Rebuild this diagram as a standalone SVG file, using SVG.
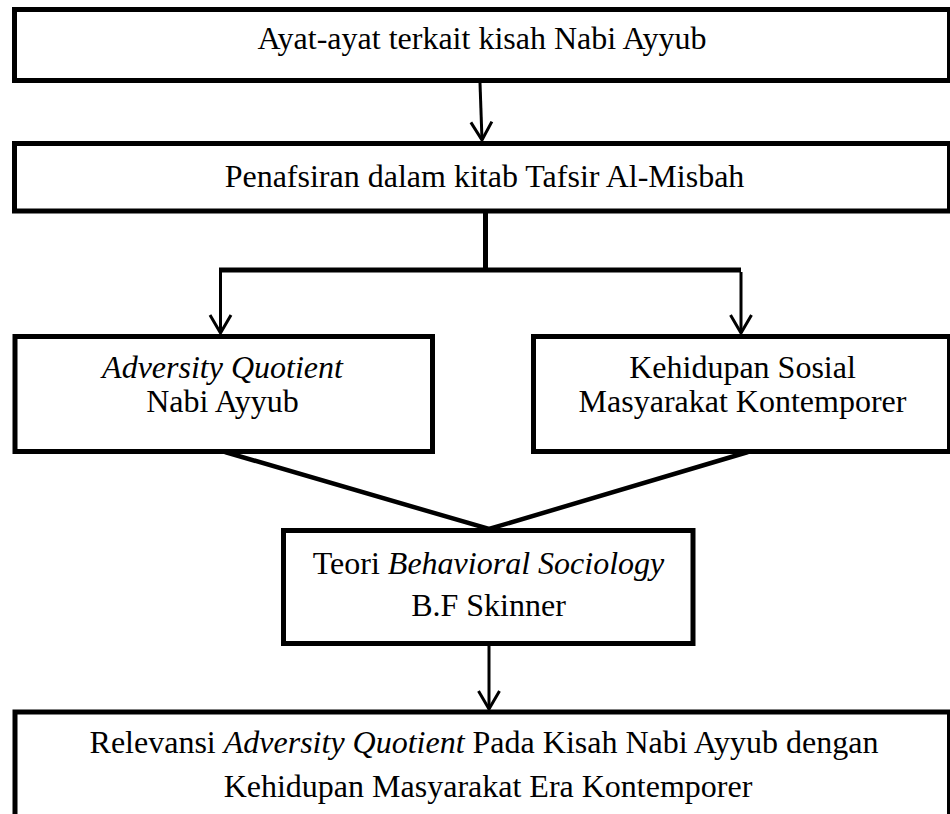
<svg xmlns="http://www.w3.org/2000/svg" width="950" height="814" viewBox="0 0 950 814">
<defs>
<style>
.box{fill:#fff;stroke:#000;stroke-width:5}
.t{font-family:"Liberation Serif","Times New Roman",serif;font-size:32px;fill:#000;text-anchor:middle}
.i{font-style:italic}
.arr{stroke:#000;stroke-width:3;fill:none;marker-end:url(#v)}
.thick{stroke:#000;stroke-width:5;fill:none}
.diag{stroke:#000;stroke-width:4.5;fill:none}
</style>
<marker id="v" markerUnits="userSpaceOnUse" orient="auto" refX="0" refY="0" overflow="visible">
<path d="M-18,-10.5 L0,0 L-18,10.5" fill="none" stroke="#000" stroke-width="3"/>
</marker>
</defs>
<rect width="950" height="814" fill="#fff"/>
<g id="connectors">
<line class="arr" x1="480" y1="83" x2="482" y2="140"/>
<line class="thick" x1="485.5" y1="212" x2="485.5" y2="270"/>
<line class="thick" x1="219" y1="270" x2="741" y2="270"/>
<line class="arr" x1="220.5" y1="272" x2="220.5" y2="333"/>
<line class="arr" x1="741" y1="272" x2="741" y2="333"/>
<polyline class="diag" points="225,452 489,529 748,452"/>
<line class="arr" x1="489" y1="645" x2="489" y2="709"/>
</g>
<g id="node-ayat">
<rect class="box" x="14.5" y="9.5" width="935" height="71"/>
<text class="t" x="482" y="49">Ayat-ayat terkait kisah Nabi Ayyub</text>
</g>
<g id="node-penafsiran">
<rect class="box" x="14.5" y="143.5" width="935" height="67.5"/>
<text class="t" x="484.5" y="187">Penafsiran dalam kitab Tafsir Al-Misbah</text>
</g>
<g id="node-aq">
<rect class="box" x="15" y="336.5" width="417.5" height="115"/>
<text class="t" x="222.5" y="378"><tspan class="i">Adversity Quotient</tspan></text>
<text class="t" x="222.5" y="412">Nabi Ayyub</text>
</g>
<g id="node-sosial">
<rect class="box" x="533.5" y="336.5" width="416" height="115"/>
<text class="t" x="742.5" y="378">Kehidupan Sosial</text>
<text class="t" x="742.5" y="412">Masyarakat Kontemporer</text>
</g>
<g id="node-teori">
<rect class="box" x="283.5" y="530.5" width="409.5" height="113"/>
<text class="t" x="488.5" y="574">Teori <tspan class="i">Behavioral Sociology</tspan></text>
<text class="t" x="488.5" y="616">B.F Skinner</text>
</g>
<g id="node-relevansi">
<rect class="box" x="15" y="712" width="934.5" height="120"/>
<text class="t" x="484" y="753">Relevansi <tspan class="i">Adversity Quotient</tspan> Pada Kisah Nabi Ayyub dengan</text>
<text class="t" x="488" y="797">Kehidupan Masyarakat Era Kontemporer</text>
</g>
</svg>
